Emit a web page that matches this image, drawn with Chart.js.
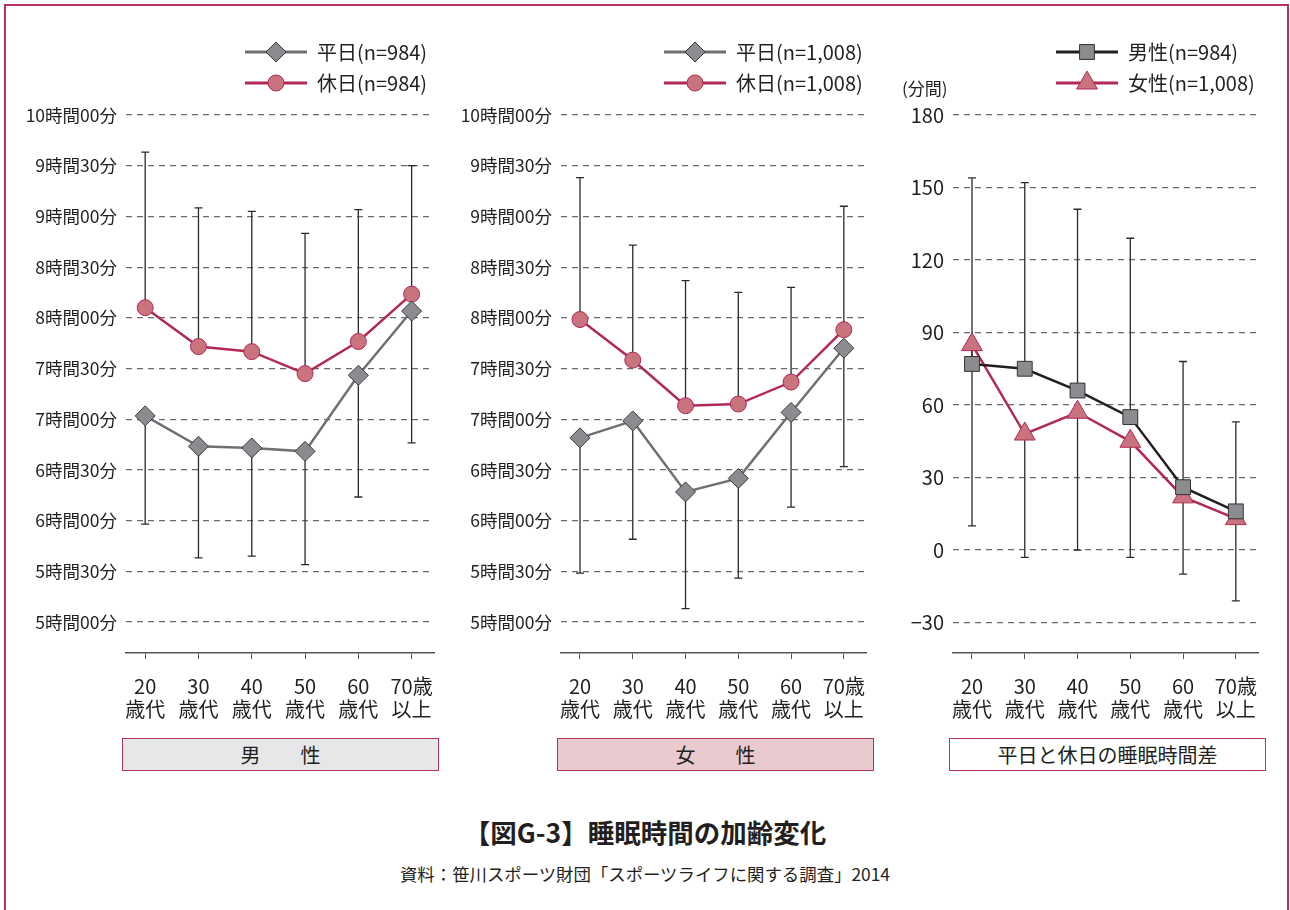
<!DOCTYPE html>
<html lang="ja">
<head>
<meta charset="utf-8">
<script src="https://cdn.jsdelivr.net/npm/chart.js@4.4.1/dist/chart.umd.min.js"></script>
<style>
  html, body { margin: 0; padding: 0; background: #fff; }
  body { width: 1290px; height: 910px; position: relative; overflow: hidden;
         font-family: "Noto Sans CJK JP", "Noto Sans", sans-serif; color: #231f20; }
  .frame { position: absolute; left: 4px; top: 4px; width: 1281px; height: 960px;
           border: 2.5px solid #b5345c; border-bottom: none; }
  canvas { position: absolute; top: 0; }
  .panel-box { position: absolute; top: 738px; height: 31px; width: 315px;
               border: 1.8px solid #b5345c; display: flex; align-items: center;
               justify-content: center; font-size: 20px; }
  .unit { position: absolute; left: 902px; top: 75px; font-size: 17px; }
  .title { position: absolute; left: 0; width: 1290px; top: 812px; text-align: center;
           font-size: 26.5px; font-weight: bold; }
  .source { position: absolute; left: 0; width: 1290px; top: 861px; text-align: center;
            font-size: 17.4px; }
</style>
</head>
<body>
<div class="frame"></div>
<canvas id="men" width="450" height="730" style="left:0"></canvas>
<canvas id="women" width="450" height="730" style="left:440px"></canvas>
<canvas id="gap" width="405" height="730" style="left:880px"></canvas>
<div class="unit">(分間)</div>
<div class="panel-box" style="left:122px;background:#e6e7e8">男　　性</div>
<div class="panel-box" style="left:557px;background:#e9cace">女　　性</div>
<div class="panel-box" style="left:949px;background:#fff">平日と休日の睡眠時間差</div>
<div class="title">【図G-3】睡眠時間の加齢変化</div>
<div class="source">資料：笹川スポーツ財団「スポーツライフに関する調査」2014</div>

<script>
// Age groups (two-line tick labels)
const ageLabels = [['20', '歳代'], ['30', '歳代'], ['40', '歳代'], ['50', '歳代'], ['60', '歳代'], ['70歳', '以上']];

// Sleep duration in minutes: means and the far end of each one-sided error bar
const menWeekday        = [422, 404, 403, 401, 446, 484];
const menWeekdayLower   = [358, 338, 339, 334, 374, 406];
const menHoliday        = [486, 463, 460, 447, 466, 494];
const menHolidayUpper   = [578, 545, 543, 530, 544, 570];

const womenWeekday      = [409, 419, 377, 385, 424, 462];
const womenWeekdayLower = [329, 349, 308, 326, 368, 392];
const womenHoliday      = [479, 455, 428, 429, 442, 473];
const womenHolidayUpper = [563, 523, 502, 495, 498, 546];

// Holiday minus weekday sleep, minutes
const gapMen        = [77, 75, 66, 55, 26, 16];
const gapMenUpper   = [154, 152, 141, 129, 78, 53];
const gapWomen      = [85, 48, 57, 45, 22, 13];
const gapWomenLower = [10, -3, 0, -3, -10, -21];

// Axis ticks
const timeTicks = [300, 330, 360, 390, 420, 450, 480, 510, 540, 570, 600];
const timeTickLabels = ['5時間00分', '5時間30分', '6時間00分', '6時間30分', '7時間00分', '7時間30分',
                        '8時間00分', '8時間30分', '9時間00分', '9時間30分', '10時間00分'];
const gapTicks = [-30, 0, 30, 60, 90, 120, 150, 180];
const gapTickLabels = ['−30', '0', '30', '60', '90', '120', '150', '180'];

// Series names
const menNames   = ['平日(n=984)', '休日(n=984)'];
const womenNames = ['平日(n=1,008)', '休日(n=1,008)'];
const gapNames   = ['男性(n=984)', '女性(n=1,008)'];

const FONT = '"Noto Sans CJK JP", "Noto Sans", sans-serif';
const INK = '#231f20';
const CRIMSON = '#b12a55';
const ROSE = '#c8737e';

const asPoints = arr => arr.map((v, i) => ({ x: i, y: v }));

// One-sided error bars: from each point to the value in dataset.errorEnd
const errorBars = {
  id: 'errorBars',
  beforeDatasetsDraw(chart) {
    const ctx = chart.ctx;
    const y = chart.scales.y;
    chart.data.datasets.forEach((ds, i) => {
      if (!ds.errorEnd) return;
      const meta = chart.getDatasetMeta(i);
      ctx.save();
      ctx.strokeStyle = '#2a2a2a';
      ctx.lineWidth = 1.3;
      meta.data.forEach((pt, j) => {
        const yEnd = y.getPixelForValue(ds.errorEnd[j]);
        ctx.beginPath();
        ctx.moveTo(pt.x, pt.y);
        ctx.lineTo(pt.x, yEnd);
        ctx.moveTo(pt.x - 4, yEnd);
        ctx.lineTo(pt.x + 4, yEnd);
        ctx.stroke();
      });
      ctx.restore();
    });
  }
};

// Series key: line sample with marker, then the series name
const seriesKey = {
  id: 'seriesKey',
  afterDraw(chart, args, opts) {
    const ctx = chart.ctx;
    chart.data.datasets.forEach((ds, i) => {
      const yRow = opts.top + i * opts.gap;
      const x0 = opts.left, x1 = opts.left + opts.lineLen;
      ctx.save();
      ctx.strokeStyle = ds.borderColor;
      ctx.lineWidth = ds.borderWidth + 0.5;
      ctx.beginPath();
      ctx.moveTo(x0, yRow);
      ctx.lineTo(x1, yRow);
      ctx.stroke();
      ctx.fillStyle = ds.pointBackgroundColor;
      ctx.strokeStyle = ds.pointBorderColor;
      ctx.lineWidth = ds.pointBorderWidth;
      Chart.helpers.drawPoint(ctx, {
        pointStyle: ds.pointStyle, radius: ds.pointRadius, rotation: 0,
        borderWidth: ds.pointBorderWidth
      }, (x0 + x1) / 2, yRow);
      ctx.fillStyle = INK;
      ctx.font = '20px ' + FONT;
      ctx.textAlign = 'left';
      ctx.textBaseline = 'middle';
      ctx.fillText(ds.label, x1 + 10, yRow);
      ctx.restore();
    });
  }
};

function panel(id, datasets, yCfg, layout) {
  return new Chart(document.getElementById(id), {
    type: 'line',
    data: { datasets },
    plugins: [errorBars, seriesKey],
    options: {
      responsive: false,
      animation: false,
      layout: { padding: { top: 115, right: layout.right, bottom: 7, left: 0 } },
      plugins: {
        legend: { display: false },
        tooltip: { enabled: false },
        seriesKey: { left: layout.keyLeft, top: 52, gap: 31, lineLen: 62 }
      },
      scales: {
        x: {
          type: 'linear',
          min: -0.36,
          max: 5.42,
          afterBuildTicks: s => { s.ticks = ageLabels.map((_, i) => ({ value: i })); },
          afterFit: s => { s.height = 70; },
          ticks: {
            callback: v => ageLabels[v],
            color: INK,
            font: { family: FONT, size: 20, lineHeight: 1.15 },
            padding: 16,
            maxRotation: 0,
            autoSkip: false
          },
          grid: { drawOnChartArea: false, drawTicks: true, tickLength: 6, color: '#555', lineWidth: 1 },
          border: { display: true, color: '#555', width: 1.5 }
        },
        y: {
          min: yCfg.min,
          max: yCfg.max,
          afterBuildTicks: s => { s.ticks = yCfg.ticks.map(v => ({ value: v })); },
          afterFit: s => { s.width = layout.left; },
          ticks: {
            callback: v => yCfg.labels[yCfg.ticks.indexOf(v)],
            color: INK,
            font: { family: FONT, size: yCfg.fontSize },
            padding: 9
          },
          grid: { color: '#6a6a6a', lineWidth: 1.2, drawTicks: false },
          border: { display: false, dash: [6, 5] }
        }
      }
    }
  });
}

function weekdaySet(label, data, lower) {
  return {
    label, data: asPoints(data), errorEnd: lower,
    borderColor: '#6f7073', borderWidth: 2.5,
    pointStyle: 'rectRot', pointRadius: 10,
    pointBackgroundColor: '#8b8c8f', pointBorderColor: '#3a3a3a', pointBorderWidth: 1
  };
}
function holidaySet(label, data, upper) {
  return {
    label, data: asPoints(data), errorEnd: upper,
    borderColor: CRIMSON, borderWidth: 2.5,
    pointStyle: 'circle', pointRadius: 8,
    pointBackgroundColor: ROSE, pointBorderColor: CRIMSON, pointBorderWidth: 1
  };
}

const timeAxis = { min: 281.7, max: 600, ticks: timeTicks, labels: timeTickLabels, fontSize: 17.5 };

panel('men',
  [weekdaySet(menNames[0], menWeekday, menWeekdayLower),
   holidaySet(menNames[1], menHoliday, menHolidayUpper)],
  timeAxis, { left: 126, right: 16, keyLeft: 245 });

panel('women',
  [weekdaySet(womenNames[0], womenWeekday, womenWeekdayLower),
   holidaySet(womenNames[1], womenHoliday, womenHolidayUpper)],
  timeAxis, { left: 121, right: 24, keyLeft: 224 });

panel('gap',
  [{
    label: gapNames[0], data: asPoints(gapMen), errorEnd: gapMenUpper,
    borderColor: INK, borderWidth: 2.5,
    pointStyle: 'rect', pointRadius: 10.5,
    pointBackgroundColor: '#8b8c8f', pointBorderColor: '#333', pointBorderWidth: 1
  }, {
    label: gapNames[1], data: asPoints(gapWomen), errorEnd: gapWomenLower,
    borderColor: CRIMSON, borderWidth: 2.5,
    pointStyle: 'triangle', pointRadius: 12,
    pointBackgroundColor: ROSE, pointBorderColor: CRIMSON, pointBorderWidth: 1
  }],
  { min: -42.6, max: 180, ticks: gapTicks, labels: gapTickLabels, fontSize: 20 },
  { left: 73, right: 27, keyLeft: 176 });
</script>
</body>
</html>
